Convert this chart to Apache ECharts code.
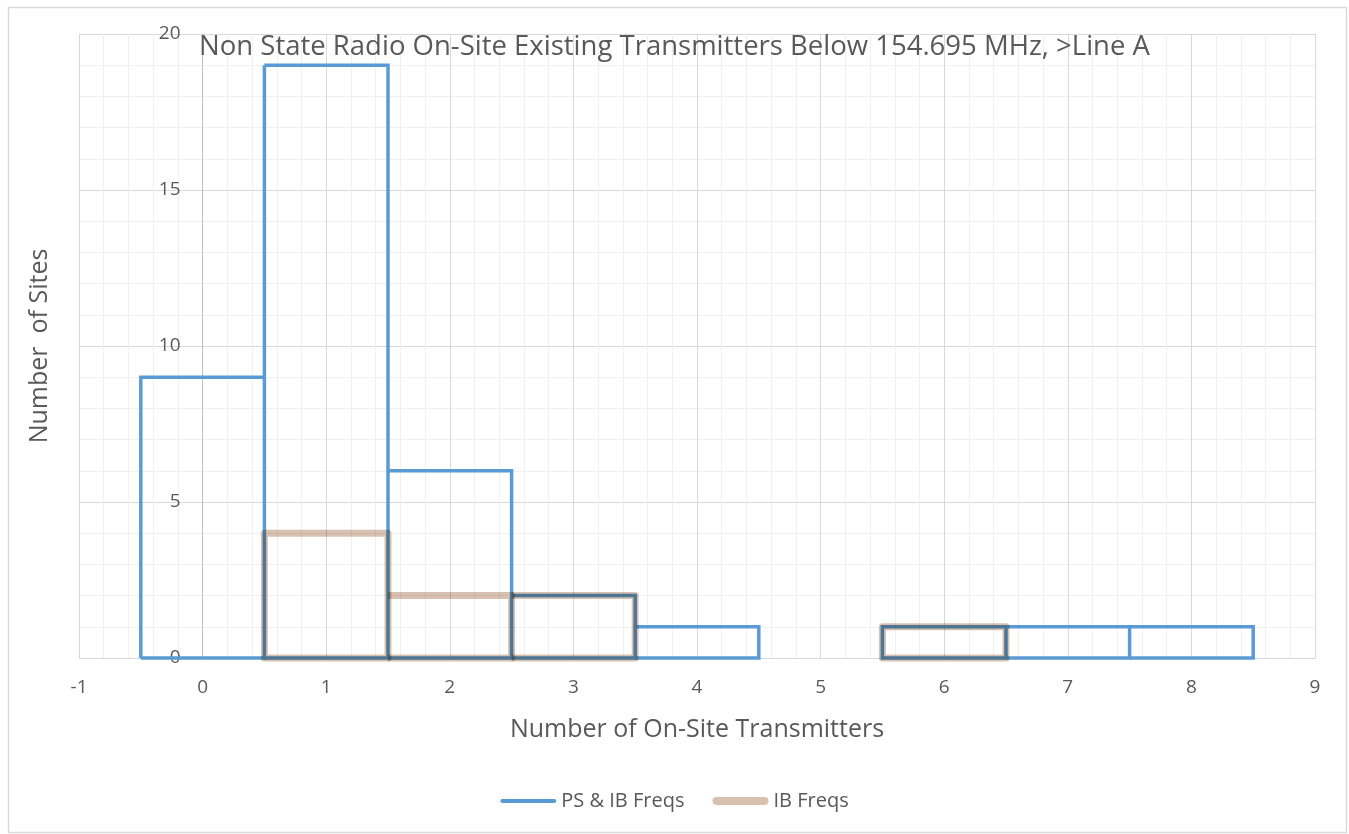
<!DOCTYPE html>
<html>
<head>
<meta charset="utf-8">
<script src="https://cdn.jsdelivr.net/npm/echarts@6/dist/echarts.min.js"></script>
<style>
html,body{margin:0;padding:0;background:#fff;}
#chart{width:1349px;height:834px;}
</style>
</head>
<body>
<div id="chart"></div>
<script>
// ---- data ----
const categories = [0, 1, 2, 3, 4, 5, 6, 7, 8];
const psIbFreqs = [9, 19, 6, 2, 1, 0, 1, 1, 1];
const ibFreqs   = [0, 4, 2, 2, 0, 0, 1, 0, 0];
const seriesNames = ['PS & IB Freqs', 'IB Freqs'];
const titleText = 'Non State Radio On-Site Existing Transmitters Below 154.695 MHz, >Line A';
const xTitle = 'Number of On-Site Transmitters';
const yTitle = 'Number  of Sites';

const FONT = '"Open Sans", "DejaVu Sans", sans-serif';
const TXT = '#595959';
const BLUE = '#5b9bd5';
const TAN = '#d8c1b1';

const GRID_LEFT = 79, GRID_RIGHT = 34, CHART_W = 1349;
const X_MIN = -1, X_MAX = 9;
// y axis crosses the x axis at x = 0
const yAxisOffset = -((0 - X_MIN) / (X_MAX - X_MIN)) * (CHART_W - GRID_LEFT - GRID_RIGHT);

function makeRender(values, color, width, join) {
  return function (params, api) {
    const i = params.dataIndex;
    const h = values[i];
    if (!h) return null;
    const prev = i > 0 ? values[i - 1] : 0;
    const next = i < values.length - 1 ? values[i + 1] : 0;
    const x = categories[i];
    const f = (p) => p[0].toFixed(2) + ',' + p[1].toFixed(2);
    const L0 = api.coord([x - 0.5, 0]);
    const LT = api.coord([x - 0.5, h]);
    const RT = api.coord([x + 0.5, h]);
    const R0 = api.coord([x + 0.5, 0]);
    const RM = api.coord([x + 0.5, Math.max(h, next)]);
    let d = prev ? ('M' + f(LT)) : ('M' + f(L0) + 'L' + f(LT));
    d += 'L' + f(RT);
    if (next > h) d += 'M' + f(RM);
    d += 'L' + f(R0) + 'L' + f(L0);
    if (!prev && next <= h) d += 'Z';
    return {
      type: 'path', shape: { pathData: d },
      style: { fill: 'none', stroke: color, lineWidth: width, lineJoin: join, lineCap: 'butt' }
    };
  };
}

const chart = echarts.init(document.getElementById('chart'), null, { renderer: 'canvas' });
const option = {
  backgroundColor: '#fff',
  animation: false,
  title: {
    text: titleText,
    left: 'center',
    top: 28,
    textStyle: { fontFamily: FONT, fontSize: 27.5, fontWeight: 'normal', color: TXT }
  },
  graphic: [{
    type: 'rect', left: 6, top: 5, silent: true, z: -10,
    shape: { width: 1338, height: 825 },
    style: { fill: 'none', stroke: '#d9d9d9', lineWidth: 1.5 }
  }],
  legend: {
    bottom: 18,
    left: 'center',
    itemWidth: 56,
    itemHeight: 8,
    itemGap: 28,
    textStyle: { fontFamily: FONT, fontSize: 20, color: TXT },
    data: [
      { name: seriesNames[0], icon: 'path://M2,0H54A2,2 0 0 1 54,4H2A2,2 0 0 1 2,0Z' },
      { name: seriesNames[1], icon: 'path://M4,0H52A4,4 0 0 1 52,8H4A4,4 0 0 1 4,0Z' }
    ]
  },
  grid: { left: GRID_LEFT, right: GRID_RIGHT, top: 34, bottom: 176, containLabel: false, outerBoundsMode: 'none' },
  xAxis: {
    type: 'value', min: X_MIN, max: X_MAX, interval: 1,
    name: xTitle, nameLocation: 'middle', nameGap: 59,
    nameTextStyle: { fontFamily: FONT, fontSize: 25, color: TXT },
    axisLine: { show: true, onZero: false, lineStyle: { color: '#d9d9d9', width: 1 } },
    axisTick: { show: false },
    axisLabel: { fontFamily: FONT, fontSize: 19, color: TXT, margin: 20 },
    splitLine: { show: true, lineStyle: { color: '#d9d9d9', width: 1 } },
    minorTick: { show: false, splitNumber: 5 },
    minorSplitLine: { show: true, lineStyle: { color: '#f0f0f0', width: 1 } }
  },
  yAxis: {
    type: 'value', min: 0, max: 20, interval: 5,
    offset: yAxisOffset,
    name: yTitle, nameLocation: 'middle', nameGap: 150,
    nameTextStyle: { fontFamily: FONT, fontSize: 25, color: TXT },
    axisLine: { show: true, onZero: false, lineStyle: { color: '#bfbfbf', width: 1 } },
    axisTick: { show: false },
    axisLabel: { fontFamily: FONT, fontSize: 19, color: TXT, margin: 22 },
    splitLine: { show: true, lineStyle: { color: '#d9d9d9', width: 1 } },
    minorTick: { show: false, splitNumber: 5 },
    minorSplitLine: { show: true, lineStyle: { color: '#f0f0f0', width: 1 } }
  },
  series: [
    {
      name: seriesNames[0], type: 'custom',
      itemStyle: { color: BLUE },
      encode: { x: 0, y: 1 },
      data: categories.map((c, i) => [c, psIbFreqs[i]]),
      renderItem: makeRender(psIbFreqs, BLUE, 3.5, 'miter'),
      clip: false
    },
    {
      name: seriesNames[1], type: 'custom',
      itemStyle: { color: TAN },
      blendMode: 'multiply',
      encode: { x: 0, y: 1 },
      data: categories.map((c, i) => [c, ibFreqs[i]]),
      renderItem: makeRender(ibFreqs, TAN, 7, 'round'),
      clip: false
    }
  ]
};
chart.setOption(option);
</script>
</body>
</html>
